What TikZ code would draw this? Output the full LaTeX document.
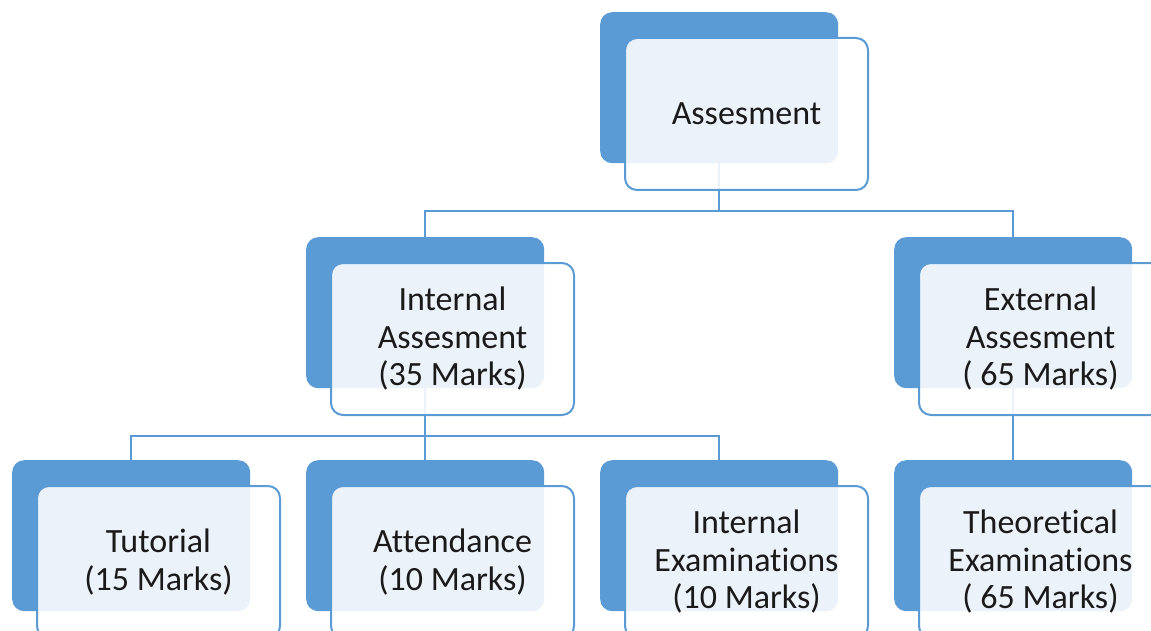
\documentclass[tikz,border=0pt]{standalone}
\usepackage{fontspec}
\setmainfont{Carlito}[Ligatures={NoCommon}]
\usetikzlibrary{backgrounds}
\definecolor{accent}{HTML}{5B9BD5}
\definecolor{ink}{HTML}{1A1A1A}
\begin{document}
\begin{tikzpicture}[x=1pt,y=-1pt,
  backbox/.style={fill=accent, draw=none, rounded corners=12pt, minimum width=238pt, minimum height=151pt, inner sep=0pt, anchor=north west},
  frontbox/.style={draw=accent, line width=2pt, fill=white, fill opacity=0.88, text opacity=1, text=ink, rounded corners=12pt, minimum width=243pt, minimum height=152pt, inner sep=0pt, anchor=north west, align=center, font=\fontsize{34}{37.5}\selectfont},
  link/.style={draw=accent, line width=2pt}]
\path[use as bounding box] (0,0) rectangle (1151,631);
\clip (0,0) rectangle (1151,631);
% back boxes
\node[backbox] (bT)  at (600,12) {};
\node[backbox] (bI)  at (306,237) {};
\node[backbox] (bE)  at (894,237) {};
\node[backbox] (bTu) at (12,460) {};
\node[backbox] (bA)  at (306,460) {};
\node[backbox] (bIE) at (600,460) {};
\node[backbox] (bTh) at (894,460) {};
% front boxes
\node[frontbox] (fT)  at (624,37)  {Assesment};
\node[frontbox] (fI)  at (330,262) {Internal\\Assesment\\(35 Marks)};
\node[frontbox] (fE)  at (918,262) {External\\Assesment\\( 65 Marks)};
\node[frontbox] (fTu) at (36,485)  {Tutorial\\(15 Marks)};
\node[frontbox] (fA)  at (330,485) {Attendance\\(10 Marks)};
\node[frontbox] (fIE) at (624,485) {Internal\\Examinations\\(10 Marks)};
\node[frontbox] (fTh) at (918,485) {Theoretical\\Examinations\\( 65 Marks)};
% connectors
\begin{pgfonlayer}{background}
\draw[link] (bT.south) -- ++(0,48) coordinate (j1);
\draw[link] (bI.north) |- (j1) -| (bE.north);
\draw[link] (bI.south) -- ++(0,48) coordinate (j2);
\draw[link] (bI.south) -- (bA.north);
\draw[link] (bTu.north) |- (j2) -| (bIE.north);
\draw[link] (bE.south) -- (bTh.north);
\end{pgfonlayer}
\end{tikzpicture}
\end{document}
